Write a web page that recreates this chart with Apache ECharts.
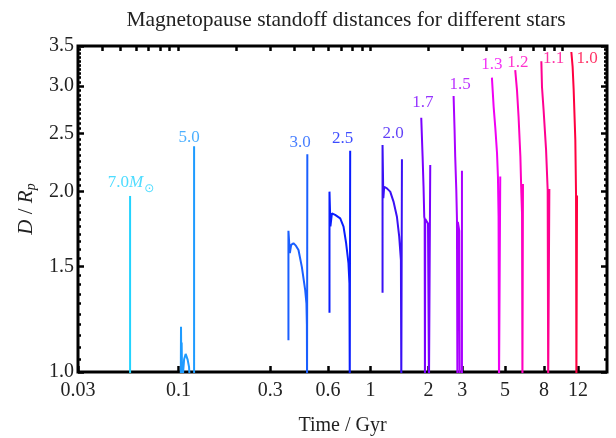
<!DOCTYPE html>
<html>
<head>
<meta charset="utf-8">
<script src="https://cdn.jsdelivr.net/npm/echarts@6/dist/echarts.min.js"></script>
<style>html,body{margin:0;padding:0;background:#fff;}#c{width:616px;height:438px;}</style>
</head>
<body>
<div id="c"></div>
<script>
// ---- data (time in Gyr, D / R_p) ----
const masses = ['7.0', '5.0', '3.0', '2.5', '2.0', '1.7', '1.5', '1.3', '1.2', '1.1', '1.0'];
const colors = ['#22d3ff', '#1e9bff', '#1a5fff', '#0a1eff', '#3a10f5', '#7a00ff', '#aa00ff', '#f000f4', '#ff00c0', '#ff0090', '#ff0040'];

const t7_0 = [0.056, 0.056];
const d7_0 = [0.95, 1.967];
const t5_0 = [0.1028, 0.1031, 0.1035, 0.1039, 0.1043, 0.1055, 0.107, 0.109, 0.1115, 0.1135, 0.115, 0.1206, 0.1206];
const d5_0 = [0.95, 1.19, 1.01, 1.12, 1.02, 0.99, 1.05, 1.072, 1.05, 1.02, 0.95, 0.95, 2.38];
const t3_0 = [0.3736, 0.3736, 0.380, 0.386, 0.3967, 0.4085, 0.4214, 0.4387, 0.4567, 0.4636, 0.466, 0.467, 0.4685, 0.4685];
const d3_0 = [1.13, 1.72, 1.58, 1.63, 1.64, 1.625, 1.598, 1.498, 1.37, 1.30, 1.2, 0.95, 0.95, 2.31];
const t2_5 = [0.611, 0.611, 0.618, 0.629, 0.654, 0.695, 0.723, 0.746, 0.767, 0.776, 0.779, 0.783, 0.783];
const d2_5 = [1.256, 2.0, 1.75, 1.84, 1.829, 1.805, 1.748, 1.64, 1.519, 1.406, 0.95, 0.95, 2.341];
const t2_0 = [1.154, 1.154, 1.165, 1.177, 1.216, 1.265, 1.316, 1.371, 1.409, 1.438, 1.445, 1.456, 1.456];
const d2_0 = [1.356, 2.393, 1.95, 2.038, 2.025, 2.0, 1.925, 1.816, 1.682, 1.538, 0.95, 0.95, 2.265];
const t1_7 = [1.835, 1.865, 1.886, 1.902, 1.912, 1.918, 1.925, 1.95, 1.99, 2.013, 2.044, 2.044];
const d1_7 = [2.657, 2.29, 2.04, 1.816, 1.80, 0.95, 1.80, 1.79, 1.77, 0.95, 0.95, 2.216];
const t1_5 = [2.704, 2.736, 2.757, 2.793, 2.815, 2.83, 2.845, 2.87, 2.895, 2.91, 2.989, 2.989];
const d1_5 = [2.888, 2.535, 2.287, 2.013, 1.80, 0.95, 1.78, 1.77, 1.72, 0.95, 0.95, 2.168];
const t1_3 = [4.28, 4.37, 4.46, 4.55, 4.60, 4.635, 4.66, 4.73, 4.73];
const d1_3 = [3.10, 2.77, 2.55, 2.32, 2.12, 1.82, 0.95, 0.95, 2.12];
const t1_2 = [5.66, 5.78, 5.89, 6.02, 6.09, 6.14, 6.17, 6.21, 6.21];
const d1_2 = [3.19, 2.955, 2.67, 2.29, 1.99, 1.84, 0.95, 0.95, 2.06];
const t1_1 = [7.74, 7.80, 7.95, 8.19, 8.35, 8.40, 8.52, 8.52];
const d1_1 = [3.30, 2.99, 2.74, 2.35, 2.01, 0.95, 0.95, 2.02];
const t1_0 = [11.09, 11.26, 11.40, 11.63, 11.73, 11.78, 11.87, 11.87];
const d1_0 = [3.42, 3.23, 2.96, 2.44, 1.98, 0.95, 0.95, 1.97];

const times = [t7_0, t5_0, t3_0, t2_5, t2_0, t1_7, t1_5, t1_3, t1_2, t1_1, t1_0];
const dists = [d7_0, d5_0, d3_0, d2_5, d2_0, d1_7, d1_5, d1_3, d1_2, d1_1, d1_0];

// label anchor positions (time, D)
const labelT = [0.0566, 0.1136, 0.430, 0.716, 1.311, 1.872, 2.928, 4.28, 5.84, 8.97, 13.38];
const labelD = [2.07, 2.458, 2.414, 2.455, 2.496, 2.815, 3.021, 3.254, 3.283, 3.339, 3.339];

// axes
const xMin = 0.03, xMax = 17;
const yMin = 1.0, yMax = 3.5;
const xTickVals = [0.03, 0.1, 0.3, 0.6, 1, 2, 3, 5, 8, 12];
const xTickLabels = ['0.03', '0.1', '0.3', '0.6', '1', '2', '3', '5', '8', '12'];
const xTopTicks = [0.04, 0.05, 0.06, 0.07, 0.08, 0.09, 0.1, 0.2, 0.3, 0.4, 0.5, 0.6, 0.7, 0.8, 0.9, 1, 2, 3, 4, 5, 6, 7, 8, 9, 10];
const yTickVals = [1.0, 1.5, 2.0, 2.5, 3.0, 3.5];
const yTickLabels = ['1.0', '1.5', '2.0', '2.5', '3.0', '3.5'];
const yMinorTicks = [];
for (let k = 21; k < 70; k++) { if (k % 10 !== 0) yMinorTicks.push(k / 20); }

const L = Math.log10;
const FONT = 'Liberation Serif';

function labelFor(vals, labs) {
  return function (v) {
    let best = 0, bd = 1e9;
    vals.forEach((x, i) => { const d = Math.abs(L(x) - v); if (d < bd) { bd = d; best = i; } });
    return labs[best];
  };
}

const tickStyle = { color: '#000', width: 2.5 };
function xAxisDef(pos, ticks, len, showLabel) {
  return {
    type: 'value', position: pos, min: L(xMin), max: L(xMax),
    axisLine: { show: false, onZero: false }, splitLine: { show: false },
    axisTick: { show: true, inside: true, length: len, lineStyle: tickStyle, customValues: ticks.map(L) },
    axisLabel: showLabel ? {
      show: true, customValues: ticks.map(L), formatter: labelFor(xTickVals, xTickLabels),
      fontFamily: FONT, fontSize: 20, color: '#222', margin: 9
    } : { show: false },
    name: showLabel ? 'Time / Gyr' : '', nameLocation: 'middle', nameGap: 44,
    nameTextStyle: { fontFamily: FONT, fontSize: 20, color: '#222' }
  };
}
function yAxisDef(pos, ticks, len, showLabel) {
  return {
    type: 'value', position: pos, min: L(yMin), max: L(yMax), offset: 0,
    axisLine: { show: false, onZero: false }, splitLine: { show: false },
    axisTick: { show: true, inside: true, length: len, lineStyle: tickStyle, customValues: ticks.map(L) },
    axisLabel: showLabel ? {
      show: true, customValues: ticks.map(L), formatter: labelFor(yTickVals, yTickLabels),
      fontFamily: FONT, fontSize: 20, color: '#222', margin: 4
    } : { show: false },
    name: showLabel ? '{i|D} / {i|R}{s|p}' : '', nameLocation: 'middle', nameRotate: 90, nameGap: 40,
    nameTextStyle: {
      fontFamily: FONT, fontSize: 21, color: '#222',
      rich: {
        i: { fontFamily: FONT, fontSize: 21, fontStyle: 'italic', color: '#222' },
        s: { fontFamily: FONT, fontSize: 14, fontStyle: 'italic', color: '#222', padding: [9, 0, 0, 0] }
      }
    }
  };
}

const series = times.map((ts, i) => ({
  type: 'line', name: masses[i], xAxisIndex: 0, yAxisIndex: 0,
  data: ts.map((t, j) => [L(t), L(dists[i][j])]),
  showSymbol: false, symbol: 'none', clip: true, animation: false,
  lineStyle: { color: colors[i], width: 2 }, z: 3
}));

series.push({
  type: 'scatter', xAxisIndex: 0, yAxisIndex: 0, symbolSize: 0, animation: false, silent: true,
  data: masses.map((m, i) => ({
    value: [L(labelT[i]), L(labelD[i])],
    label: {
      show: true, position: 'inside', color: colors[i], fontFamily: FONT, fontSize: 17,
      formatter: i === 0 ? m + '{i|M}{s|⊙}' : m,
      rich: {
        i: { fontFamily: FONT, fontSize: 17, fontStyle: 'italic', color: colors[i] },
        s: { fontFamily: 'DejaVu Sans', fontSize: 12, color: colors[i], padding: [12, 0, 0, 1] }
      }
    }
  })),
  z: 4
});

const chart = echarts.init(document.getElementById('c'), null, { renderer: 'canvas' });
chart.setOption({
  animation: false,
  backgroundColor: '#fff',
  title: {
    text: 'Magnetopause standoff distances for different stars',
    left: 341, top: 4, textAlign: 'center',
    textStyle: { fontFamily: FONT, fontSize: 21.5, fontWeight: 'normal', color: '#222' }
  },
  grid: {
    left: 78, right: 9, top: 46, bottom: 66, show: true, borderColor: '#000', borderWidth: 3,
    backgroundColor: 'transparent', outerBoundsMode: 'none', containLabel: false
  },
  xAxis: [xAxisDef('bottom', xTickVals, 6, true), xAxisDef('top', xTopTicks, 5, false)],
  yAxis: [
    yAxisDef('left', yTickVals, 6, true), yAxisDef('left', yMinorTicks, 3, false),
    yAxisDef('right', yTickVals, 6, false), yAxisDef('right', yMinorTicks, 3, false)
  ],
  series: series
});
</script>
</body>
</html>
